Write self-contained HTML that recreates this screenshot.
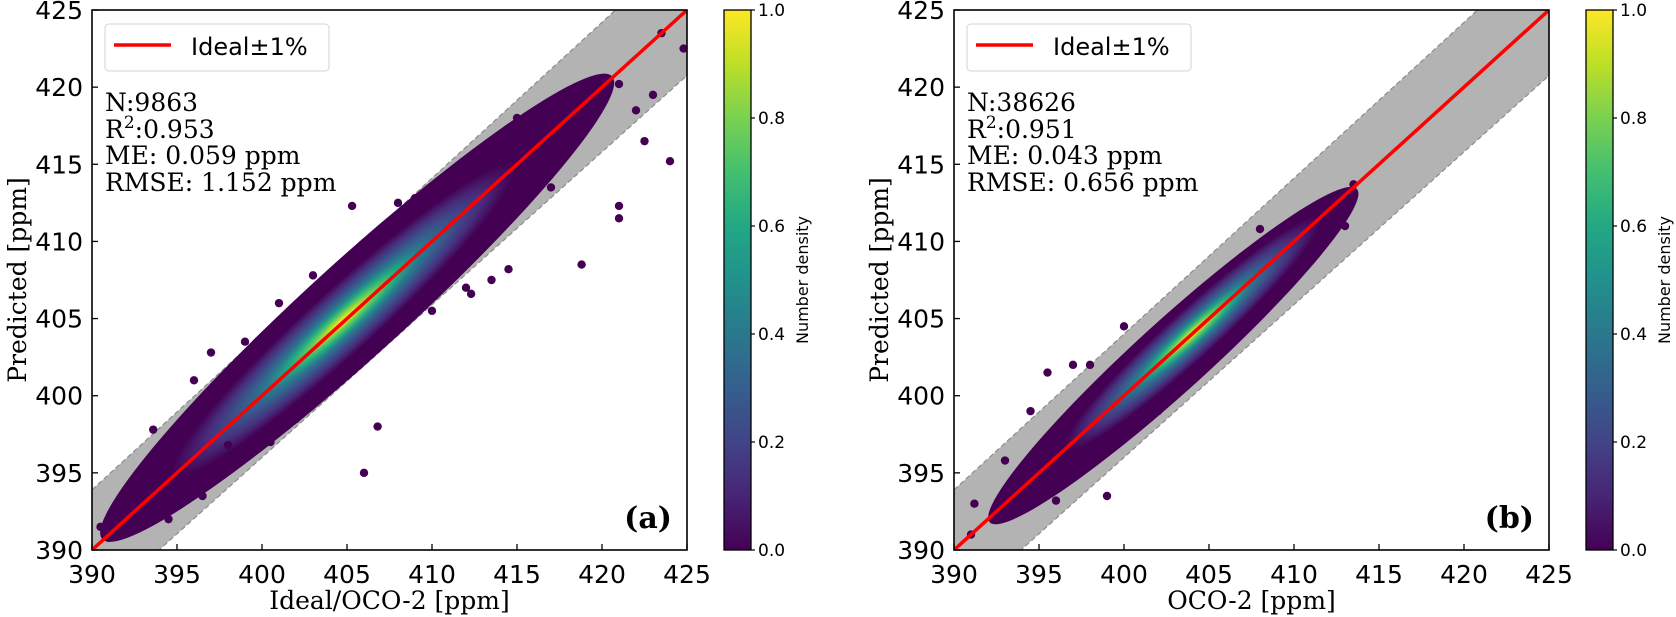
<!DOCTYPE html>
<html><head><meta charset="utf-8"><style>
html,body{margin:0;padding:0;background:#fff;}
svg{display:block;}
</style></head><body>
<svg id="fig" width="1676" height="617" xmlns="http://www.w3.org/2000/svg">
<defs>
<linearGradient id="cbar" x1="0" y1="1" x2="0" y2="0">
<stop offset="0" stop-color="#440154"/><stop offset="0.1" stop-color="#482475"/><stop offset="0.2" stop-color="#414487"/><stop offset="0.3" stop-color="#355f8d"/><stop offset="0.4" stop-color="#2a788e"/><stop offset="0.5" stop-color="#21918c"/><stop offset="0.6" stop-color="#22a884"/><stop offset="0.7" stop-color="#44bf70"/><stop offset="0.8" stop-color="#7ad151"/><stop offset="0.9" stop-color="#bddf26"/><stop offset="1" stop-color="#fde725"/>
</linearGradient>
<radialGradient id="dens">
<stop offset="0" stop-color="#fde725"/><stop offset="0.1" stop-color="#bddf26"/><stop offset="0.2" stop-color="#5ec962"/><stop offset="0.32" stop-color="#22a884"/><stop offset="0.45" stop-color="#2a788e"/><stop offset="0.62" stop-color="#3b528b"/><stop offset="0.8" stop-color="#472d7b"/><stop offset="1" stop-color="#440154"/>
</radialGradient>
<clipPath id="clipA"><rect x="92" y="10" width="595" height="540"/></clipPath>
<clipPath id="clipB"><rect x="954" y="10" width="595" height="540"/></clipPath>
</defs>
</svg>
<script>
// ---- data ----
const axisTicks = [390,395,400,405,410,415,420,425];
const cbarTicks = [0.0,0.2,0.4,0.6,0.8,1.0];
const panelLabels = ["(a)","(b)"];
const xTitles = ["Ideal/OCO-2 [ppm]","OCO-2 [ppm]"];
const statN = ["9863","38626"];
const statR2 = ["0.953","0.951"];
const statME = ["0.059","0.043"];
const statRMSE = ["1.152","0.656"];
// density cloud: [centerX, centerY, halfLength(ppm along diagonal), halfWidth(ppm vertical)]
const cloudA = [405.6, 405.7, 15.0, 4.2];
const cloudB = [402.9, 402.6, 10.8, 3.1];
const coreA = [404.8, 404.9, 10.0, 2.8];
const coreB = [404.0, 404.0, 7.5, 2.1];
const outX_A = [390.5,391,392,393.6,396,397,399,405.3,406,406.8,408,409,412,412.3,413.5,414.5,418.8,419,419.8,421,421,421,422,422.5,423,423.5,424,424.8,394.5,396.5,398,401,403,410,415,417,400.5,402];
const outY_A = [391.5,390.8,391.7,397.8,401,402.8,403.5,412.3,395,398,412.5,412.8,407,406.6,407.5,408.2,408.5,419.5,420.5,420.2,412.3,411.5,418.5,416.5,419.5,423.5,415.2,422.5,392,393.5,396.8,406,407.8,405.5,418,413.5,397,398.5];
const outX_B = [391,392.5,391.2,395.5,397,398,413.5,413,412,399,394.5,393,396,400,402,408,410.5,411];
const outY_B = [391,392.5,393,401.5,402,402,413.7,411,412.5,393.5,399,395.8,393.2,404.5,399,410.8,408.2,412];

const svg = document.getElementById('fig');
const NS = "http://www.w3.org/2000/svg";
function mk(tag, attrs, parent){const e=document.createElementNS(NS,tag);for(const k in attrs)e.setAttribute(k,attrs[k]);(parent||svg).appendChild(e);return e;}

const W=595,H=540,TOP=10;
function panel(idx, x0, cloud, core, ox, oy, cbx){
  const sx=v=>x0+(v-390)*W/35;
  const sy=v=>TOP+H-(v-390)*H/35;
  const g=mk('g',{'clip-path':'url(#clip'+(idx?'B':'A')+')'});
  
  
  const lo=390,hi=425;
  const band=mk('polygon',{points:`${sx(lo)},${sy(lo*1.01)} ${sx(hi)},${sy(hi*1.01)} ${sx(hi)},${sy(hi*0.99)} ${sx(lo)},${sy(lo*0.99)}`,fill:'#b3b3b3'},g);
  
  
  [1.01,0.99].forEach(f=>{const l=mk('line',{x1:sx(lo),y1:sy(lo*f),x2:sx(hi),y2:sy(hi*f),stroke:'#8c8c8c','stroke-width':1.2,'stroke-dasharray':'5,3'},g);
    
    });
  const ang=-Math.atan2(H/35,W/35)*180/Math.PI;
  const diag=Math.hypot(W/35,H/35);
  const perp=(H/35)*Math.cos(Math.atan2(H/35,W/35));
  const c1=mk('ellipse',{cx:sx(cloud[0]),cy:sy(cloud[1]),rx:cloud[2]*diag,ry:cloud[3]*perp,fill:'#440154',transform:`rotate(${ang} ${sx(cloud[0])} ${sy(cloud[1])})`},g);
  
  
  const c2=mk('ellipse',{cx:sx(core[0]),cy:sy(core[1]),rx:core[2]*diag,ry:core[3]*perp,fill:'url(#dens)',transform:`rotate(${ang} ${sx(core[0])} ${sy(core[1])})`},g);
  
  
  for(let i=0;i<ox.length;i++){const p=mk('circle',{cx:sx(ox[i]),cy:sy(oy[i]),r:4.2,fill:'#440154'},g);
    
    }
  const rl=mk('line',{x1:sx(390),y1:sy(390),x2:sx(425),y2:sy(425),stroke:'#ff0000','stroke-width':3.5},g);
  
  
  const fr=mk('rect',{x:x0,y:TOP,width:W,height:H,fill:'none',stroke:'#000','stroke-width':1.6});
  
  
  axisTicks.forEach(t=>{
    mk('line',{x1:sx(t),y1:TOP+H,x2:sx(t),y2:TOP+H-6,stroke:'#000','stroke-width':1.3});
    mk('line',{x1:x0,y1:sy(t),x2:x0+6,y2:sy(t),stroke:'#000','stroke-width':1.3});
    const xt=mk('text',{x:sx(t),y:583,'text-anchor':'middle','font-family':'DejaVu Sans, sans-serif','font-size':25});xt.textContent=t;
    
    
    const yt=mk('text',{x:x0-9,y:sy(t)+9,'text-anchor':'end','font-family':'DejaVu Sans, sans-serif','font-size':25});yt.textContent=t;
    
    
  });
  const xl=mk('text',{x:x0+W/2,y:609,'text-anchor':'middle','font-family':'DejaVu Serif, serif','font-size':25});xl.textContent=xTitles[idx];
  
  
  const yl=mk('text',{x:0,y:0,'text-anchor':'middle','font-family':'DejaVu Serif, serif','font-size':25,transform:`translate(${x0-66},${TOP+H/2}) rotate(-90)`});yl.textContent='Predicted [ppm]';
  
  
  const lg=mk('g',{});
  
  
  mk('rect',{x:x0+13,y:24,width:224,height:47,rx:4,fill:'#fff','fill-opacity':0.85,stroke:'#ddd','stroke-width':1.3},lg);
  mk('line',{x1:x0+22,y1:45,x2:x0+79,y2:45,stroke:'#ff0000','stroke-width':3.5},lg);
  const lt=mk('text',{x:x0+99,y:55,'font-family':'DejaVu Sans, sans-serif','font-size':24},lg);lt.textContent='Ideal±1%';
  const lines=[`N:${statN[idx]}`,null,`ME: ${statME[idx]} ppm`,`RMSE: ${statRMSE[idx]} ppm`];
  const ys=[111,138,164,191];
  lines.forEach((s,i)=>{
    const t=mk('text',{x:x0+13,y:ys[i],'font-family':'DejaVu Serif, serif','font-size':25});
    
    
    if(s) t.textContent=s; else {t.textContent='R'; const sp=mk('tspan',{dy:-10,'font-size':17},t); sp.textContent='2'; const s2=mk('tspan',{dy:10},t); s2.textContent=':'+statR2[idx];}
  });
  const pl=mk('text',{x:x0+W-15,y:TOP+H-22,'text-anchor':'end','font-family':'DejaVu Serif, serif','font-size':30,'font-weight':'bold'});pl.textContent=panelLabels[idx];
  
  
  const cb=mk('rect',{x:cbx,y:TOP,width:27,height:H,fill:'url(#cbar)',stroke:'#000','stroke-width':1.3});
  
  
  cbarTicks.forEach(v=>{const y=TOP+H-v*H;
    mk('line',{x1:cbx+27,y1:y,x2:cbx+31,y2:y,stroke:'#000','stroke-width':1.2});
    const t=mk('text',{x:cbx+34,y:y+6,'font-family':'DejaVu Sans, sans-serif','font-size':17});t.textContent=v.toFixed(1);
    
    });
  const ct=mk('text',{x:0,y:0,'text-anchor':'middle','font-family':'DejaVu Sans, sans-serif','font-size':16,transform:`translate(${cbx+84},${TOP+H/2}) rotate(-90)`});ct.textContent='Number density';
  
  
}
panel(0,92,cloudA,coreA,outX_A,outY_A,724);
panel(1,954,cloudB,coreB,outX_B,outY_B,1586);
</script>
</body></html>
